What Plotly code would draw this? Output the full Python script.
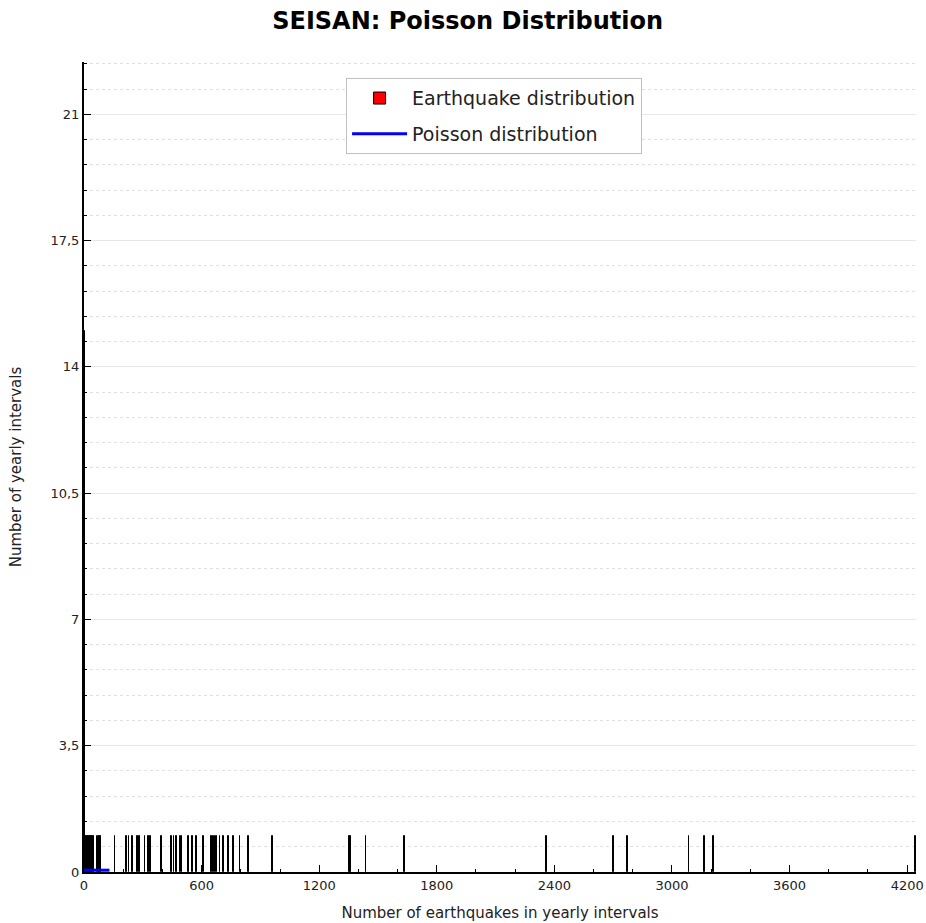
import plotly.graph_objects as go

# Earthquake distribution: number of earthquakes per yearly interval (x) and how many intervals (y)
eq_counts = [3, 6, 10, 14, 18, 22, 27, 31, 35, 40, 44, 48,
             66, 71, 76, 81, 86,
             158, 218, 230, 248, 274, 282, 311, 328, 340, 396, 447, 459, 473,
             490, 498, 532, 555, 575, 609, 652, 660, 668, 677, 694, 711, 736,
             762, 796, 838, 961, 1355, 1360, 1439, 1634, 2361, 2701, 2772,
             3087, 3165, 3211, 4243]
eq_freq = [15, 1, 1, 1, 1, 1, 1, 1, 1, 1, 1, 1,
           1, 1, 1, 1, 1,
           1, 1, 1, 1, 1, 1, 1, 1, 1, 1, 1, 1, 1,
           1, 1, 1, 1, 1, 1, 1, 1, 1, 1, 1, 1, 1,
           1, 1, 1, 1, 1, 1, 1, 1, 1, 1, 1,
           1, 1, 1, 1]

# Poisson distribution curve (essentially zero at this scale)
poisson_x = [0, 20, 40, 60, 80, 100, 130]
poisson_y = [0.05, 0.05, 0.05, 0.05, 0.05, 0.05, 0.05]

x_tickvals = [0, 600, 1200, 1800, 2400, 3000, 3600, 4200]
x_ticktext = ["0", "600", "1200", "1800", "2400", "3000", "3600", "4200"]
y_tickvals = [0, 3.5, 7, 10.5, 14, 17.5, 21]
y_ticktext = ["0", "3,5", "7", "10,5", "14", "17,5", "21"]

FONT = "DejaVu Sans"

fig = go.Figure()
fig.add_trace(go.Bar(
    x=eq_counts, y=eq_freq, width=4,
    marker=dict(color="red", line=dict(color="black", width=1)),
    name="Earthquake distribution", legendgroup="eq",
))
fig.add_trace(go.Scatter(
    x=poisson_x, y=poisson_y, mode="lines",
    line=dict(color="blue", width=3),
    name="Poisson distribution", legendgroup="po",
))

fig.update_layout(
    width=926, height=923,
    margin=dict(l=84, r=10, t=62, b=51),
    paper_bgcolor="white", plot_bgcolor="white",
    title=dict(text="<b>SEISAN: Poisson Distribution</b>", x=0.505, xanchor="center",
               y=0.978, yanchor="middle",
               font=dict(family=FONT, size=24, color="black")),
    font=dict(family=FONT, size=13, color="#222"),
    bargap=0,
    legend=dict(x=0.315, y=0.98, xanchor="left", yanchor="top",
                bgcolor="white", bordercolor="#c0c0c0", borderwidth=1,
                font=dict(family=FONT, size=19, color="#222"),
                itemwidth=55, traceorder="grouped", tracegroupgap=8),
    showlegend=True,
)

fig.update_xaxes(
    range=[0, 4245], automargin=False,
    tickmode="array", tickvals=x_tickvals, ticktext=x_ticktext,
    ticks="inside", ticklen=7, tickwidth=1, tickcolor="black",
    showline=True, linecolor="black", linewidth=2,
    showgrid=False, zeroline=False,
    minor=dict(tickmode="linear", tick0=0, dtick=200, ticks="inside",
               ticklen=3, tickcolor="black", showgrid=False),
    title=dict(text="Number of earthquakes in yearly intervals", standoff=16,
               font=dict(family=FONT, size=15, color="#222")),
    tickfont=dict(family=FONT, size=13, color="#222"),
)
fig.update_yaxes(
    range=[0, 22.45], automargin=False,
    tickmode="array", tickvals=y_tickvals, ticktext=y_ticktext,
    ticks="inside", ticklen=7, tickwidth=1, tickcolor="black",
    showline=True, linecolor="black", linewidth=2,
    showgrid=True, gridcolor="#e8e8e8", gridwidth=1, zeroline=False,
    minor=dict(tickmode="linear", tick0=0, dtick=0.7, ticks="inside",
               ticklen=3, tickcolor="black", showgrid=True,
               gridcolor="#e0e0e0", griddash="dot", gridwidth=1),
    title=dict(text="Number of yearly intervals", standoff=25,
               font=dict(family=FONT, size=15, color="#222")),
    tickfont=dict(family=FONT, size=13, color="#222"),
)

fig.write_html("out.html")
